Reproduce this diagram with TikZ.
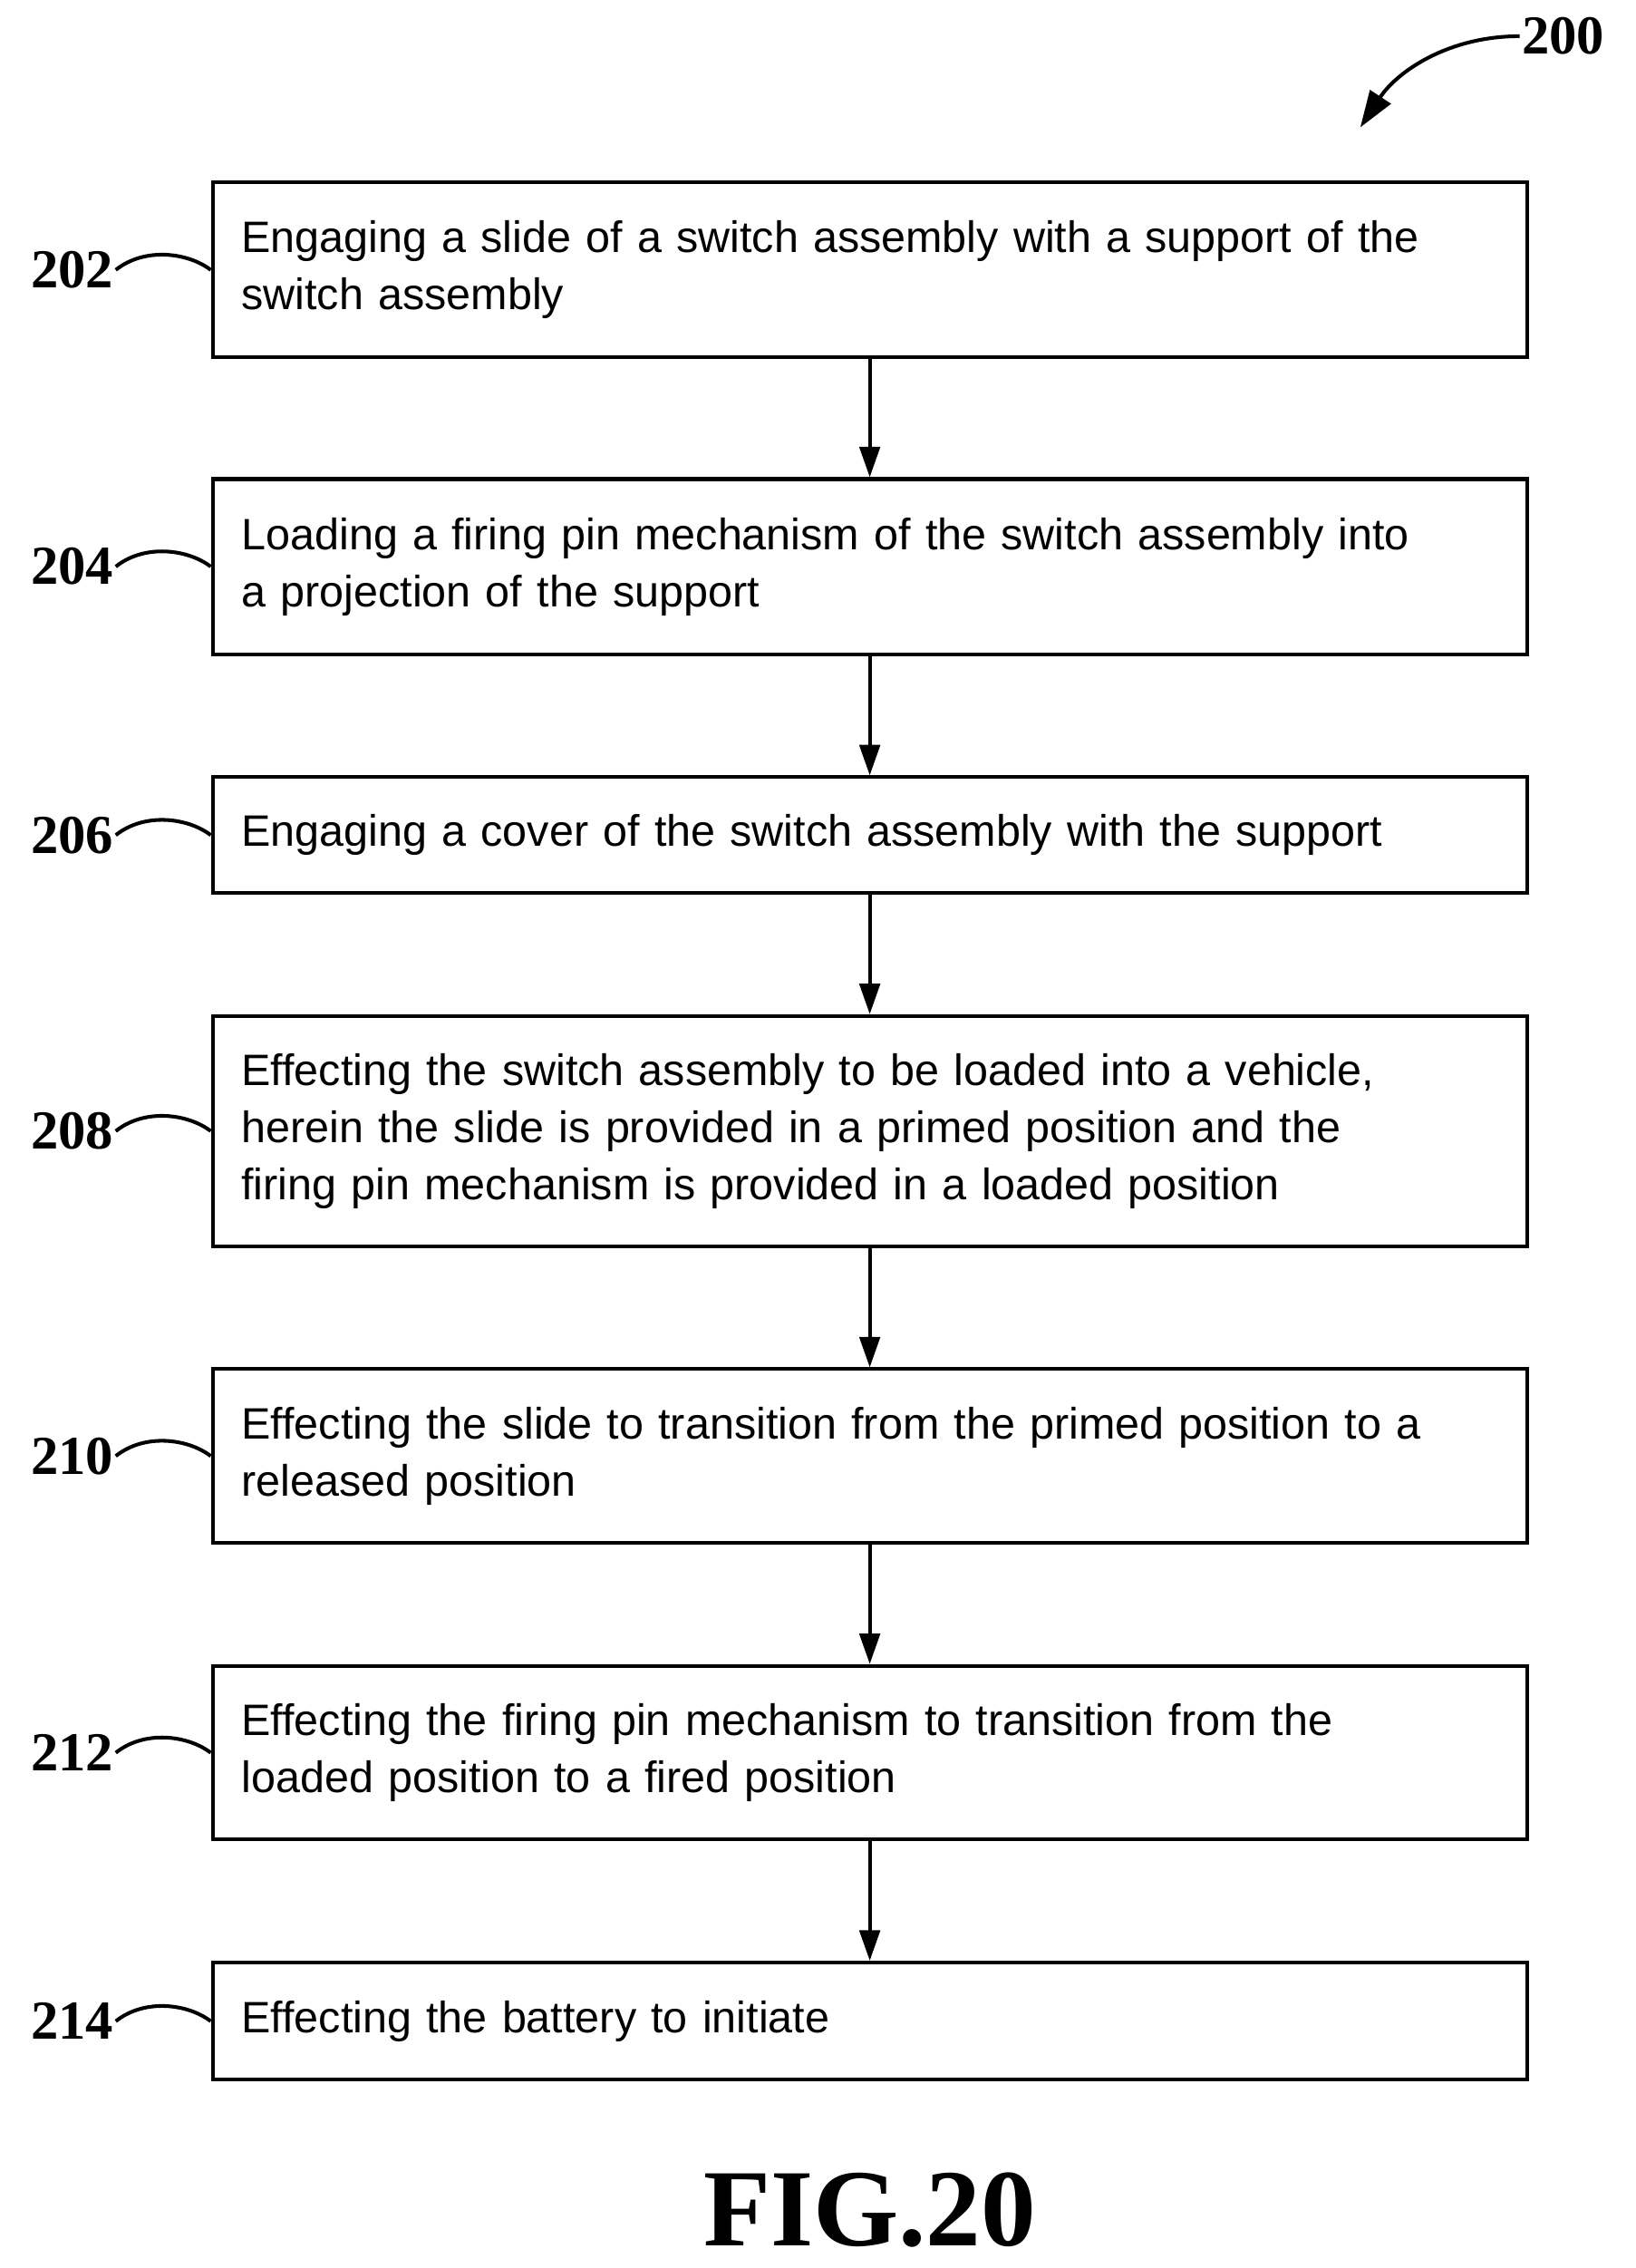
\documentclass[tikz,border=0pt]{standalone}
\usepackage{fontspec}
\setmainfont{Liberation Sans}
\newfontfamily\numfont{Liberation Serif}
\usetikzlibrary{arrows.meta}
\tikzset{
  stepbox/.style={draw, line width=1.8pt, minimum width=22.7cm, text width=21.7cm,
    inner xsep=0.5cm, align=left, font=\fontsize{21.6}{28}\selectfont},
  ref/.style={font=\numfont\bfseries\fontsize{27}{27}\selectfont},
  flow/.style={line width=1.8pt, -{Triangle[length=15pt,width=10pt]}},
  lead/.style={line width=1.8pt}
}
\begin{document}
\begin{tikzpicture}[x=0.025cm,y=-0.025cm]
  \useasboundingbox (0,0) rectangle (1130,1567);
  % Schritte
  \node[stepbox, minimum height=3.025cm] (s202) at (601,186.5) {Engaging a slide of a switch assembly with a support of the\\ switch assembly};
  \node[stepbox, minimum height=3.025cm] (s204) at (601,391.5) {Loading a firing pin mechanism of the switch assembly into\\ a projection of the support};
  \node[stepbox, minimum height=2cm] (s206) at (601,577) {Engaging a cover of the switch assembly with the support};
  \node[stepbox, minimum height=3.975cm] (s208) at (601,781.5) {Effecting the switch assembly to be loaded into a vehicle,\\ herein the slide is provided in a primed position and the\\ firing pin mechanism is provided in a loaded position};
  \node[stepbox, minimum height=3.0cm] (s210) at (601,1006) {Effecting the slide to transition from the primed position to a\\ released position};
  \node[stepbox, minimum height=3.0cm] (s212) at (601,1211) {Effecting the firing pin mechanism to transition from the\\ loaded position to a fired position};
  \node[stepbox, minimum height=2.025cm] (s214) at (601,1396.5) {Effecting the battery to initiate};
  % Pfeile
  \draw[flow] (s202) -- (s204);
  \draw[flow] (s204) -- (s206);
  \draw[flow] (s206) -- (s208);
  \draw[flow] (s208) -- (s210);
  \draw[flow] (s210) -- (s212);
  \draw[flow] (s212) -- (s214);
  % Bezugszeichen
  \foreach \n/\y in {202/186.5, 204/391.5, 206/577, 208/781.5, 210/1006, 212/1211, 214/1396.5} {
    \node[ref, anchor=east, inner xsep=1pt] (r\n) at (80,\y) {\n};
    \draw[lead] (r\n.east) .. controls (100,\y-16) and (130,\y-12) .. (s\n.west);
  }
  % 200
  \node[ref, anchor=west, inner xsep=1pt] (r200) at (1050,25) {200};
  \coordinate (p200) at (940,88);
  \draw[lead, -{Triangle[length=18pt,width=12pt]}] (r200.west) .. controls (1000,25) and (965,50) .. (p200);
  % Figur
  \node[font=\numfont\bfseries\fontsize{54}{54}\selectfont] (fig) at (601,1527) {FIG.20};
\end{tikzpicture}
\end{document}
